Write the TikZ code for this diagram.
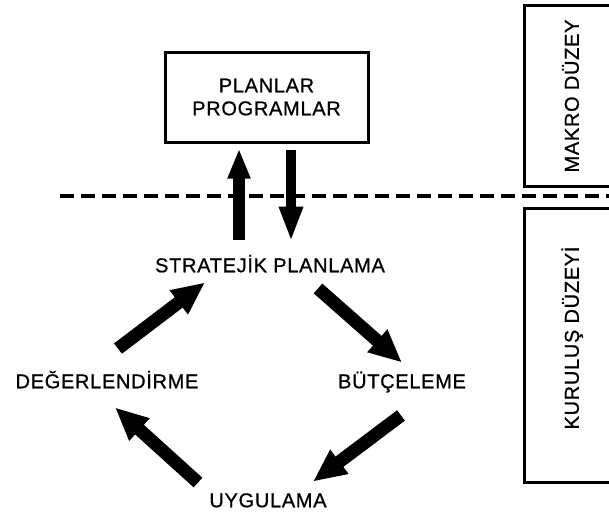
\documentclass[tikz,border=0pt]{standalone}
\usepackage{fontspec}
\setmainfont{Liberation Sans}[LetterSpace=3.5, FakeBold=0.8]
\usetikzlibrary{calc}
\usetikzlibrary{arrows.meta}
\tikzset{
    lbl/.style={font=\fontsize{20}{23}\selectfont, inner sep=0pt, text height=14.5pt, text depth=0pt},
    planbox/.style={draw, line width=3pt, minimum width=203pt, minimum height=90pt, align=center, font=\fontsize{20}{23}\selectfont},
    framebox/.style={draw, line width=3pt},
    levelline/.style={line width=3.5pt, dash pattern=on 14pt off 7pt},
    fatArrow/.style={line width=13pt, -{Triangle[length=33pt,width=28pt]}},
    upArrow/.style ={line width=12pt, -{Triangle[length=30pt,width=21pt]}},
    downArrow/.style={line width=10pt, -{Triangle[length=35pt,width=22pt]}}
}

\begin{document}
\begin{tikzpicture}[x=1pt,y=-1pt]
  % Frame of the picture
  \useasboundingbox (0,0) rectangle (609,515);

  % Macro level
  \node[planbox] (plan) at (266.5,97) {PLANLAR\\PROGRAMLAR};

  % Level separator
  \draw[levelline] (60,196) -- (609,196);

  % Side boxes
  \draw[framebox] (609,5) -- (524,5) -- (524,186) -- (609,186);
  \draw[framebox] (609,208) -- (524,208) -- (524,482) -- (609,482);
  \node[lbl, rotate=90] (makro)   at (571.5,96)  {MAKRO DÜZEY};
  \node[lbl, rotate=90] (kurulus) at (571.5,338) {KURULUŞ DÜZEYİ};

  % Cycle
  \node[lbl] (strat)  at (270,265) {STRATEJİK PLANLAMA};
  \node[lbl] (degerl) at (107,381) {DEĞERLENDİRME};
  \node[lbl] (butce)  at (402,381) {BÜTÇELEME};
  \node[lbl] (uygul)  at (268,500) {UYGULAMA};

  % Between the levels
  \draw[upArrow]   ($(strat.north)+(-31,-18)$) -- ($(plan.south)+(-27.5,5)$);
  \draw[downArrow] ($(plan.south)+(24.5,6)$)   -- ($(strat.north)+(21,-16)$);

  % Cycle arrows
  \draw[fatArrow] ($(degerl.north)+(11,-25)$) -- ($(strat.south)+(-65,10)$);
  \draw[fatArrow] ($(strat.south)+(48,16)$)  -- ($(butce.north)+(0,-11)$);
  \draw[fatArrow] ($(butce.south)+(-1,27)$)  -- ($(uygul.north)+(45,-11)$);
  \draw[fatArrow] ($(uygul.north)+(-70,-10)$) -- ($(degerl.south)+(8,19)$);
\end{tikzpicture}
\end{document}
